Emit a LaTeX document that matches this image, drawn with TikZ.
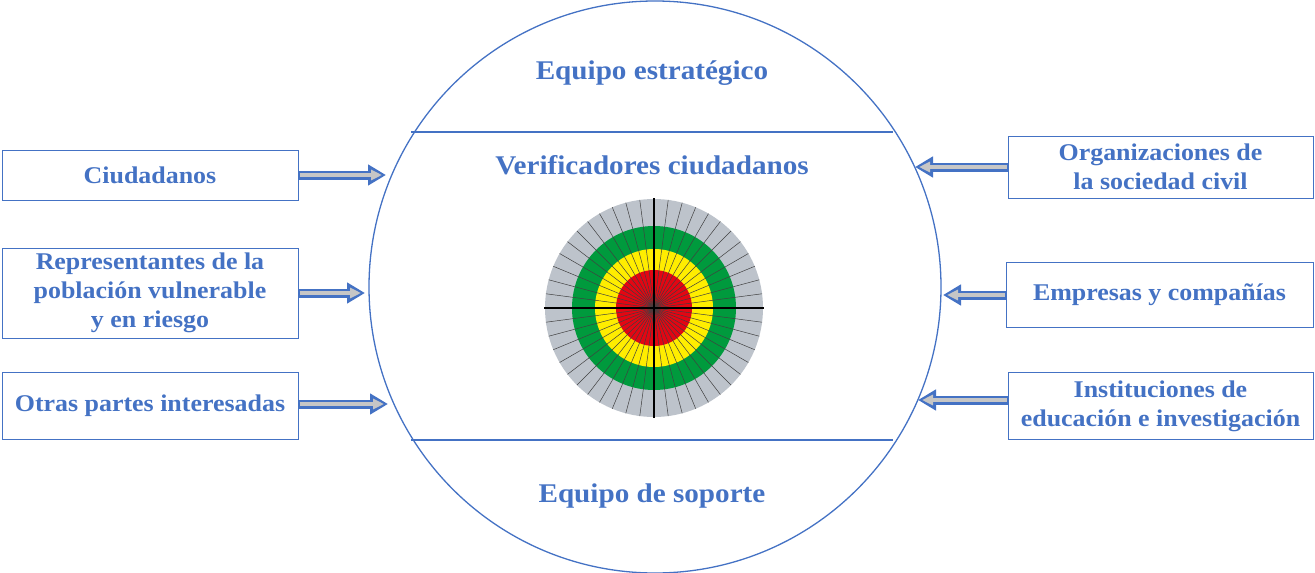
\documentclass[tikz,border=0pt]{standalone}
\usepackage{fontspec}
\setmainfont{Liberation Serif}
\usetikzlibrary{arrows.meta,calc}
\definecolor{lb}{HTML}{4472C4}
\definecolor{tx}{HTML}{4472C4}
\definecolor{wg}{HTML}{BDC3CB}
\definecolor{wgr}{HTML}{009A3D}
\definecolor{wy}{HTML}{FFED00}
\definecolor{wr}{HTML}{E30613}
\tikzset{
 box/.style={draw=lb,line width=1pt,fill=white,inner sep=0pt,align=center,font=\fontsize{24}{29}\selectfont\addfontfeature{FakeStretch=1.08}\bfseries,text=tx},
 ttl/.style={font=\fontsize{27}{31}\selectfont\addfontfeature{FakeStretch=1.08}\bfseries,text=tx},
 arrout/.style={draw=lb,line width=9pt,-{Triangle[length=18pt,width=20pt]}},
 arrin/.style={draw=gray!45,line width=4pt,-{Triangle[length=11pt,width=10pt]},shorten >=4pt,shorten <=1pt},
}
\begin{document}
\begin{tikzpicture}[x=1pt,y=-1pt]
\useasboundingbox (0,0) rectangle (1315,573);
\begin{scope}
\clip (0,0) rectangle (1315,573);
\draw[lb,line width=1.3pt] (655,287) circle (286);
\end{scope}
\coordinate (c) at (655,287);
\draw[lb,line width=1.5pt] (411,132) -- (893,132);
\draw[lb,line width=1.5pt] (411,440) -- (893,440);
\node[ttl] (t1) at (652,73) {Equipo estratégico};
\node[ttl] (t2) at (652,165) {Verificadores ciudadanos};
\node[ttl] (t3) at (652,496) {Equipo de soporte};
% wheel
\coordinate (w) at (654,308);
\fill[wg] (w) circle (109);
\fill[wgr] (w) circle (82);
\fill[wy] (w) circle (59);
\fill[wr] (w) circle (38);
\foreach \a in {0,7.5,...,359} {\draw[black!75,line width=0.5pt] (w) -- ++(\a:109);}
\draw[black,line width=1.3pt] ($(w)+(-110,0)$) -- ($(w)+(110,0)$);
\draw[black,line width=1.3pt] ($(w)+(0,-110)$) -- ($(w)+(0,110)$);
% boxes
\node[box,minimum width=296pt,minimum height=50pt] (b1) at (150,175) {Ciudadanos};
\node[box,minimum width=296pt,minimum height=90pt] (b2) at (150,293) {Representantes de la\\población vulnerable\\y en riesgo};
\node[box,minimum width=296pt,minimum height=67pt] (b3) at (150,406) {Otras partes interesadas};
\node[box,minimum width=305pt,minimum height=62pt] (b4) at (1160.5,167) {Organizaciones de\\la sociedad civil};
\node[box,minimum width=307pt,minimum height=65pt] (b5) at (1159.5,294.5) {Empresas y compañías};
\node[box,minimum width=305pt,minimum height=67pt] (b6) at (1160.5,406) {Instituciones de\\educación e investigación};
\coordinate (e1) at (386,175);
\coordinate (e2) at (365,293);
\coordinate (e3) at (388,404);
\coordinate (e4) at (915,167);
\coordinate (e5) at (943,295);
\coordinate (e6) at (918,400);
\foreach \b/\e in {b1/e1,b2/e2,b3/e3} {
 \draw[arrout] (\b.east |- \e) -- (\e);
 \draw[arrin] (\b.east |- \e) -- (\e);
}
\foreach \b/\e in {b4/e4,b5/e5,b6/e6} {
 \draw[arrout] (\b.west |- \e) -- (\e);
 \draw[arrin] (\b.west |- \e) -- (\e);
}
\end{tikzpicture}
\end{document}
